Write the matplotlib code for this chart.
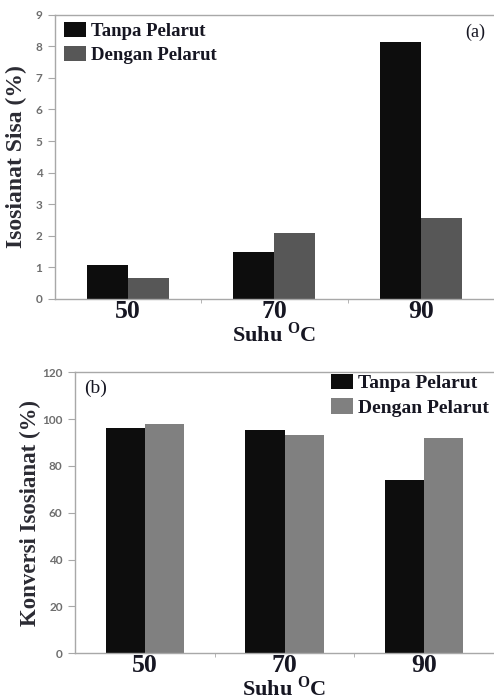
import numpy as np
import matplotlib
matplotlib.use("Agg")
import matplotlib.pyplot as plt
from matplotlib.ticker import FixedLocator

plt.rcParams["mathtext.fontset"] = "custom"
plt.rcParams["mathtext.rm"] = "Liberation Serif"
plt.rcParams["mathtext.bf"] = "Liberation Serif:bold"

suhu = ["50", "70", "90"]
series = ["Tanpa Pelarut", "Dengan Pelarut"]
sisa_tanpa = [1.08, 1.48, 8.15]
sisa_dengan = [0.67, 2.08, 2.55]
konv_tanpa = [96.4, 95.2, 73.9]
konv_dengan = [98.1, 93.1, 91.9]

serif = "Liberation Serif"
txt_col = "#161622"
tick_col = "#6e6e6e"
spine_col = "#a8a8a8"

fig = plt.figure(figsize=(4.94, 7.0), dpi=100)
ax1 = fig.add_axes([0.111, 0.573, 0.889, 0.406])
ax2 = fig.add_axes([0.152, 0.067, 0.848, 0.401])

x = np.arange(len(suhu))
w = 0.28


def style(ax, ymax, ystep, ylabel, lblsize):
    ax.set_xlim(-0.5, 2.5)
    ax.set_ylim(0, ymax)
    ax.set_yticks(np.arange(0, ymax + ystep / 2, ystep))
    ax.set_xticks(x)
    ax.set_xticklabels(suhu, fontfamily=serif, fontweight="bold", fontsize=18.5, color=txt_col)
    ax.xaxis.set_minor_locator(FixedLocator([0.5, 1.5]))
    ax.tick_params(axis="x", which="major", length=0, pad=1)
    ax.tick_params(axis="x", which="minor", length=3, color=spine_col, direction="out")
    ax.tick_params(axis="y", length=5, color=spine_col, direction="out", pad=4)
    for t in ax.get_yticklabels():
        t.set_fontfamily("Lato")
        t.set_fontweight("bold")
        t.set_fontsize(8.5)
        t.set_color(tick_col)
    for s in ["left", "bottom", "top"]:
        ax.spines[s].set_color(spine_col)
        ax.spines[s].set_linewidth(1.0)
    ax.spines["right"].set_visible(False)
    ax.set_ylabel(ylabel, fontfamily=serif, fontweight="bold", fontsize=lblsize, color="#2b2b33")
    ax.set_xlabel(r"Suhu $^{\mathbf{O}}$C", fontfamily=serif, fontweight="bold", fontsize=16,
                  color=txt_col, labelpad=-1)


# panel (a)
ax1.bar(x - w / 2, sisa_tanpa, w, color="#0d0d0d", label=series[0])
ax1.bar(x + w / 2, sisa_dengan, w, color="#575757", label=series[1])
style(ax1, 9, 1, "Isosianat Sisa (%)", 17)
ax1.yaxis.labelpad = 6
leg1 = ax1.legend(loc="upper left", bbox_to_anchor=(0.022, 0.975), frameon=False,
                  borderpad=0, borderaxespad=0, handlelength=1.15, handleheight=0.9,
                  handletextpad=0.25, labelspacing=0.3,
                  prop={"family": serif, "weight": "bold", "size": 13.5})
for t in leg1.get_texts():
    t.set_color(txt_col)
ax1.text(0.957, 0.937, "(a)", transform=ax1.transAxes, ha="center", va="center",
         fontfamily=serif, fontsize=13, color=txt_col)

# panel (b)
ax2.bar(x - w / 2, konv_tanpa, w, color="#0d0d0d", label=series[0])
ax2.bar(x + w / 2, konv_dengan, w, color="#808080", label=series[1])
style(ax2, 120, 20, "Konversi Isosianat (%)", 16.5)
ax2.yaxis.labelpad = 1
leg2 = ax2.legend(loc="upper left", bbox_to_anchor=(0.611, 0.995), frameon=False,
                  borderpad=0, borderaxespad=0, handlelength=1.15, handleheight=0.85,
                  handletextpad=0.25, labelspacing=0.3,
                  prop={"family": serif, "weight": "bold", "size": 14})
for t in leg2.get_texts():
    t.set_color(txt_col)
ax2.text(0.048, 0.943, "(b)", transform=ax2.transAxes, ha="center", va="center",
         fontfamily=serif, fontsize=14, color=txt_col)

fig.savefig("out.png", dpi=100)
